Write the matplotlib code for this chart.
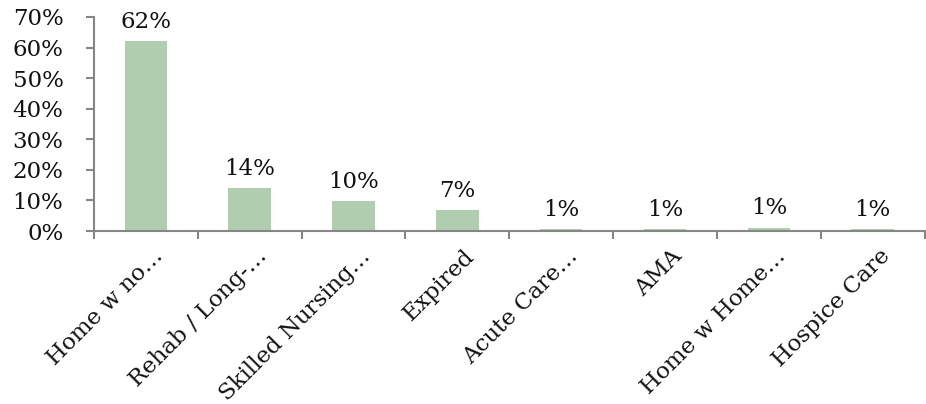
import matplotlib
matplotlib.use("Agg")
import matplotlib.pyplot as plt
import matplotlib.transforms as mtransforms
import numpy as np

categories = ["Home w no…", "Rehab / Long-…", "Skilled Nursing…", "Expired",
              "Acute Care…", "AMA", "Home w Home…", "Hospice Care"]
values = [62, 14, 9.8, 6.9, 0.7, 0.7, 1.1, 0.7]
labels = ["62%", "14%", "10%", "7%", "1%", "1%", "1%", "1%"]
yticks = [0, 10, 20, 30, 40, 50, 60, 70]

plt.rcParams['font.family'] = ['DejaVu Serif']
fs = 16.5
fig = plt.figure(figsize=(9.26, 4.04), dpi=100)
ax = fig.add_axes([0.1015, 0.428, 0.897, 0.53])
x = np.arange(len(categories))
ax.bar(x, values, width=0.41, color="#b0cdb0", zorder=2)
for xi, v, l in zip(x, values, labels):
    ax.annotate(l, (xi, v), xytext=(0, 6), textcoords="offset points",
                ha="center", va="bottom", fontsize=fs, color="#111111")
ax.set_xlim(-0.5, len(categories) - 0.5)
ax.set_ylim(0, 70)
ax.set_yticks(yticks)
ax.set_yticklabels([f"{t}%" for t in yticks], fontsize=fs, color="#111111")
ax.set_xticks(x)
ax.set_xticklabels(categories, rotation=45, ha="right", rotation_mode="anchor",
                   fontsize=fs, color="#111111")
ax.tick_params(axis="x", which="major", length=0, pad=10)
offset = mtransforms.ScaledTranslation(6 / 100, 0, fig.dpi_scale_trans)
for lab in ax.get_xticklabels():
    lab.set_transform(lab.get_transform() + offset)
ax.set_xticks(np.arange(-0.5, len(categories), 1.0), minor=True)
ax.tick_params(axis="x", which="minor", length=6, width=1.5, color="#868686")
ax.tick_params(axis="y", length=6, width=1.5, color="#868686", pad=16)
for s in ["top", "right"]:
    ax.spines[s].set_visible(False)
for s in ["left", "bottom"]:
    ax.spines[s].set_color("#868686")
    ax.spines[s].set_linewidth(1.5)
fig.savefig("out.png", dpi=100)
